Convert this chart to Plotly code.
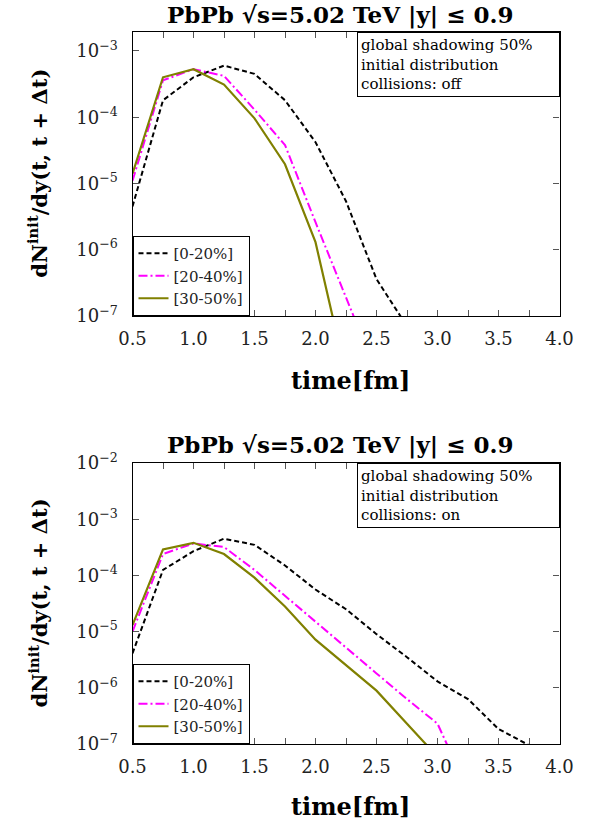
import plotly.graph_objects as go

# ---- data ----
t = [0.5, 0.75, 1.0, 1.25, 1.5, 1.75, 2.0, 2.25, 2.5, 2.75, 3.0, 3.25, 3.5, 3.75]

off_0_20 = [4.5e-6, 1.8e-4, 4.0e-4, 6.0e-4, 4.5e-4, 1.8e-4, 4.2e-5, 5.4e-6, 3.6e-7, 7.0e-8]
off_20_40 = [1.1e-5, 3.6e-4, 5.3e-4, 4.2e-4, 1.3e-4, 3.8e-5, 2.6e-6, 1.9e-7, 1.4e-8]
off_30_50 = [1.4e-5, 4.0e-4, 5.3e-4, 3.1e-4, 9.6e-5, 1.95e-5, 1.3e-6, 1.3e-8]

on_0_20 = [4.1e-6, 1.25e-4, 2.7e-4, 4.5e-4, 3.5e-4, 1.5e-4, 5.6e-5, 2.5e-5, 9.0e-6,
           3.5e-6, 1.3e-6, 6.3e-7, 1.85e-7, 9.5e-8]
on_20_40 = [1.0e-5, 2.4e-4, 3.7e-4, 3.2e-4, 1.25e-4, 4.3e-5, 1.5e-5, 5.2e-6, 1.8e-6,
            6.3e-7, 2.3e-7, 1.5e-8]
on_30_50 = [1.3e-5, 2.9e-4, 3.8e-4, 2.4e-4, 9.1e-5, 2.8e-5, 7.2e-6, 2.5e-6, 8.9e-7,
            2.3e-7, 5.9e-8]

series_names = ["[0-20%]", "[20-40%]", "[30-50%]"]
x_tickvals = [0.5, 0.75, 1.0, 1.25, 1.5, 1.75, 2.0, 2.25, 2.5, 2.75, 3.0, 3.25, 3.5, 3.75, 4.0]
x_ticktext = ["0.5", "", "1.0", "", "1.5", "", "2.0", "", "2.5", "", "3.0", "", "3.5", "", "4.0"]
y_tickvals = [1e-7, 1e-6, 1e-5, 1e-4, 1e-3, 1e-2]
y_ticktext = ["10<sup>−7</sup>", "10<sup>−6</sup>", "10<sup>−5</sup>",
              "10<sup>−4</sup>", "10<sup>−3</sup>", "10<sup>−2</sup>"]

title_text = "<b>PbPb √s=5.02 TeV |y| ≤ 0.9</b>"
box_top = "global shadowing 50%<br>initial distribution<br>collisions: off"
box_bot = "global shadowing 50%<br>initial distribution<br>collisions: on"

# ---- styles ----
FONT = "DejaVu Serif"
styles = [dict(color="black", dash="5px,3px", width=2),
          dict(color="#ff00ff", dash="9px,3px,2px,3px", width=2),
          dict(color="#808000", dash="solid", width=2.2)]

W, H = 596, 824


def px_x(x):
    return x / W


def px_y(y):
    return 1 - y / H


xl, xr = px_x(132.5), px_x(559.5)
top_dom = [px_y(316), px_y(31.7)]
bot_dom = [px_y(744), px_y(463)]

fig = go.Figure()

top_sets = [off_0_20, off_20_40, off_30_50]
bot_sets = [on_0_20, on_20_40, on_30_50]
for i, ys in enumerate(top_sets):
    fig.add_trace(go.Scatter(x=t[:len(ys)], y=ys, mode="lines", name=series_names[i],
                             line=styles[i], xaxis="x", yaxis="y", legend="legend"))
for i, ys in enumerate(bot_sets):
    fig.add_trace(go.Scatter(x=t[:len(ys)], y=ys, mode="lines", name=series_names[i],
                             line=styles[i], xaxis="x2", yaxis="y2", legend="legend2"))

axis_common = dict(showline=True, linecolor="black", linewidth=1.2, mirror="ticks",
                   ticks="inside", ticklen=6, tickcolor="#555", showgrid=False, zeroline=False,
                   automargin=False,
                   tickfont=dict(family=FONT, size=18, color="#222"))

fig.update_layout(
    template="none",
    width=W, height=H, margin=dict(l=0, r=0, t=0, b=0, autoexpand=False),
    plot_bgcolor="white", paper_bgcolor="white",
    xaxis=dict(domain=[xl, xr], range=[0.5, 4.0], tickvals=x_tickvals, ticktext=x_ticktext,
               anchor="y", ticklabelstandoff=6, **axis_common),
    yaxis=dict(domain=top_dom, type="log", range=[-7, -2.71], tickvals=y_tickvals,
               ticktext=y_ticktext, anchor="x", ticklabelstandoff=10, **axis_common),
    xaxis2=dict(domain=[xl, xr], range=[0.5, 4.0], tickvals=x_tickvals, ticktext=x_ticktext,
                anchor="y2", ticklabelstandoff=6, **axis_common),
    yaxis2=dict(domain=bot_dom, type="log", range=[-7, -2], tickvals=y_tickvals,
                ticktext=y_ticktext, anchor="x2", ticklabelstandoff=10, **axis_common),
    legend=dict(x=xl, y=top_dom[0], xanchor="left", yanchor="bottom",
                bordercolor="black", borderwidth=1, bgcolor="white",
                font=dict(family=FONT, size=15, color="#222"), itemwidth=30, tracegroupgap=0),
    legend2=dict(x=xl, y=bot_dom[0], xanchor="left", yanchor="bottom",
                 bordercolor="black", borderwidth=1, bgcolor="white",
                 font=dict(family=FONT, size=15, color="#222"), itemwidth=30, tracegroupgap=0),
    showlegend=True,
)

ann = []
for dom, box, title_y, xt_y in [(top_dom, box_top, 15, 380), (bot_dom, box_bot, 445, 806)]:
    ann.append(dict(text=title_text, xref="paper", yref="paper", x=(xl + xr) / 2 - 6 / W,
                    y=px_y(title_y), xanchor="center", yanchor="middle", showarrow=False,
                    font=dict(family=FONT, size=23, color="black")))
    ann.append(dict(text=box, xref="paper", yref="paper", x=xr, y=dom[1],
                    xanchor="right", yanchor="top", showarrow=False, align="left",
                    bordercolor="black", borderwidth=1, bgcolor="white", borderpad=3,
                    width=195, font=dict(family=FONT, size=15, color="black")))
    ann.append(dict(text="<b>dN<sup>init</sup>/dy(t, t + Δt)</b>", xref="paper", yref="paper",
                    x=px_x(38), y=(dom[0] + dom[1]) / 2, xanchor="center", yanchor="middle",
                    textangle=-90, showarrow=False,
                    font=dict(family=FONT, size=21, color="black")))
    ann.append(dict(text="<b>time[fm]</b>", xref="paper", yref="paper", x=(xl + xr) / 2 + 4 / W,
                    y=px_y(xt_y), xanchor="center", yanchor="middle", showarrow=False,
                    font=dict(family=FONT, size=24, color="black")))
fig.update_layout(annotations=ann)

fig.write_html("out.html", config={"displayModeBar": False},
               post_script="document.body.style.margin='0';")
